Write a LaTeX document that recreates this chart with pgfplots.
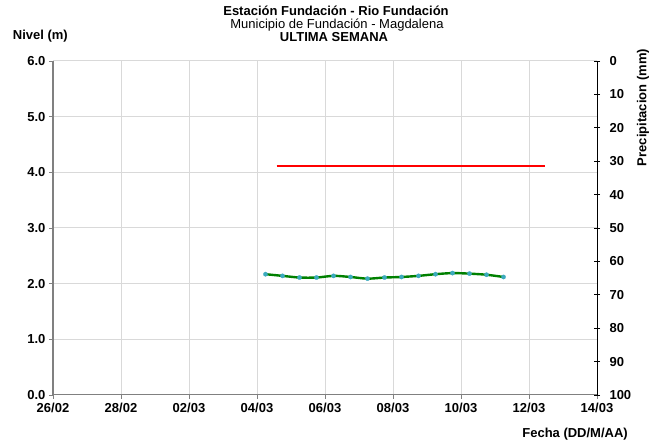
\documentclass[border=0pt]{standalone}
\usepackage{fontspec}
\setmainfont{Liberation Sans}
\usepackage{pgfplots}
\pgfplotsset{compat=1.18}
\definecolor{gridgray}{RGB}{217,217,217}
\definecolor{axgray}{RGB}{128,128,128}
\definecolor{lvlgreen}{RGB}{0,128,0}
\definecolor{mkteal}{RGB}{60,170,190}
\begin{document}
\begin{tikzpicture}[x=1pt,y=1pt]
\path[use as bounding box] (0,0) rectangle (662,443);
\begin{axis}[
  at={(53pt,48pt)}, anchor=south west,
  scale only axis, width=544pt, height=334pt,
  xmin=0, xmax=16, ymin=0, ymax=6,
  axis x line*=bottom, axis y line*=left,
  x axis line style={draw=axgray, line width=1pt, -},
  y axis line style={draw=axgray, line width=1.5pt, -},
  xtick={0,2,...,16},
  xticklabels={26/02,28/02,02/03,04/03,06/03,08/03,10/03,12/03,14/03},
  ytick={0,1,...,6},
  tick align=outside, major tick length=4pt,
  tick style={draw=axgray, line width=0.8pt},
  /pgf/number format/assume math mode=true,
  yticklabel style={/pgf/number format/.cd, fixed, fixed zerofill, precision=1},
  tick label style={font=\fontsize{13}{13}\selectfont\bfseries},
  xticklabel style={yshift=-1pt},
  grid=major,
  major grid style={draw=gridgray, line width=1pt},
  clip=false,
]
\addplot[color=red, line width=2pt] coordinates {(6.58,4.11) (14.47,4.11)};
\addplot[color=lvlgreen, line width=2.4pt, smooth, mark=*, mark size=2.2pt,
  mark options={draw=mkteal, fill=mkteal, line width=0.2pt}] coordinates {
  (6.25,2.17) (6.75,2.14) (7.25,2.11) (7.75,2.11) (8.25,2.14)
  (8.75,2.12) (9.25,2.09) (9.75,2.11) (10.25,2.12) (10.75,2.14)
  (11.25,2.17) (11.75,2.19) (12.25,2.18) (12.75,2.16) (13.25,2.12)};
\end{axis}
\begin{axis}[
  at={(53pt,48pt)}, anchor=south west,
  scale only axis, width=544pt, height=334pt,
  xmin=0, xmax=16, ymin=0, ymax=100, y dir=reverse,
  axis x line=none, axis y line*=right,
  y axis line style={draw=black, line width=0.8pt, -},
  ytick={0,10,...,100},
  tick align=center, major tick length=6pt,
  tick style={draw=black, line width=0.8pt},
  /pgf/number format/assume math mode=true,
  yticklabel style={font=\fontsize{13}{13}\selectfont\bfseries, anchor=west, xshift=6pt},
]
\addplot[draw=none] coordinates {(0,0)};
\end{axis}
\node[font=\fontsize{13}{13}\selectfont\bfseries, anchor=base] at (336,427.3) {Estación Fundación - Rio Fundación};
\node[font=\fontsize{13}{13}\selectfont, anchor=base] at (337,414.3) {Municipio de Fundación - Magdalena};
\node[font=\fontsize{13}{13}\selectfont\bfseries, anchor=base] at (334,401.3) {ULTIMA SEMANA};
\node[font=\fontsize{13}{13}\selectfont\bfseries, anchor=base west, inner sep=0pt] at (12.7,403.5) {Nivel (m)};
\node[font=\fontsize{13}{13}\selectfont\bfseries, anchor=base east, inner sep=0pt] at (628,5.7) {Fecha (DD/M/AA)};
\node[font=\fontsize{13}{13}\selectfont\bfseries, rotate=90, inner sep=0pt] at (643,335.5) {Precipitacion (mm)};
\end{tikzpicture}
\end{document}
